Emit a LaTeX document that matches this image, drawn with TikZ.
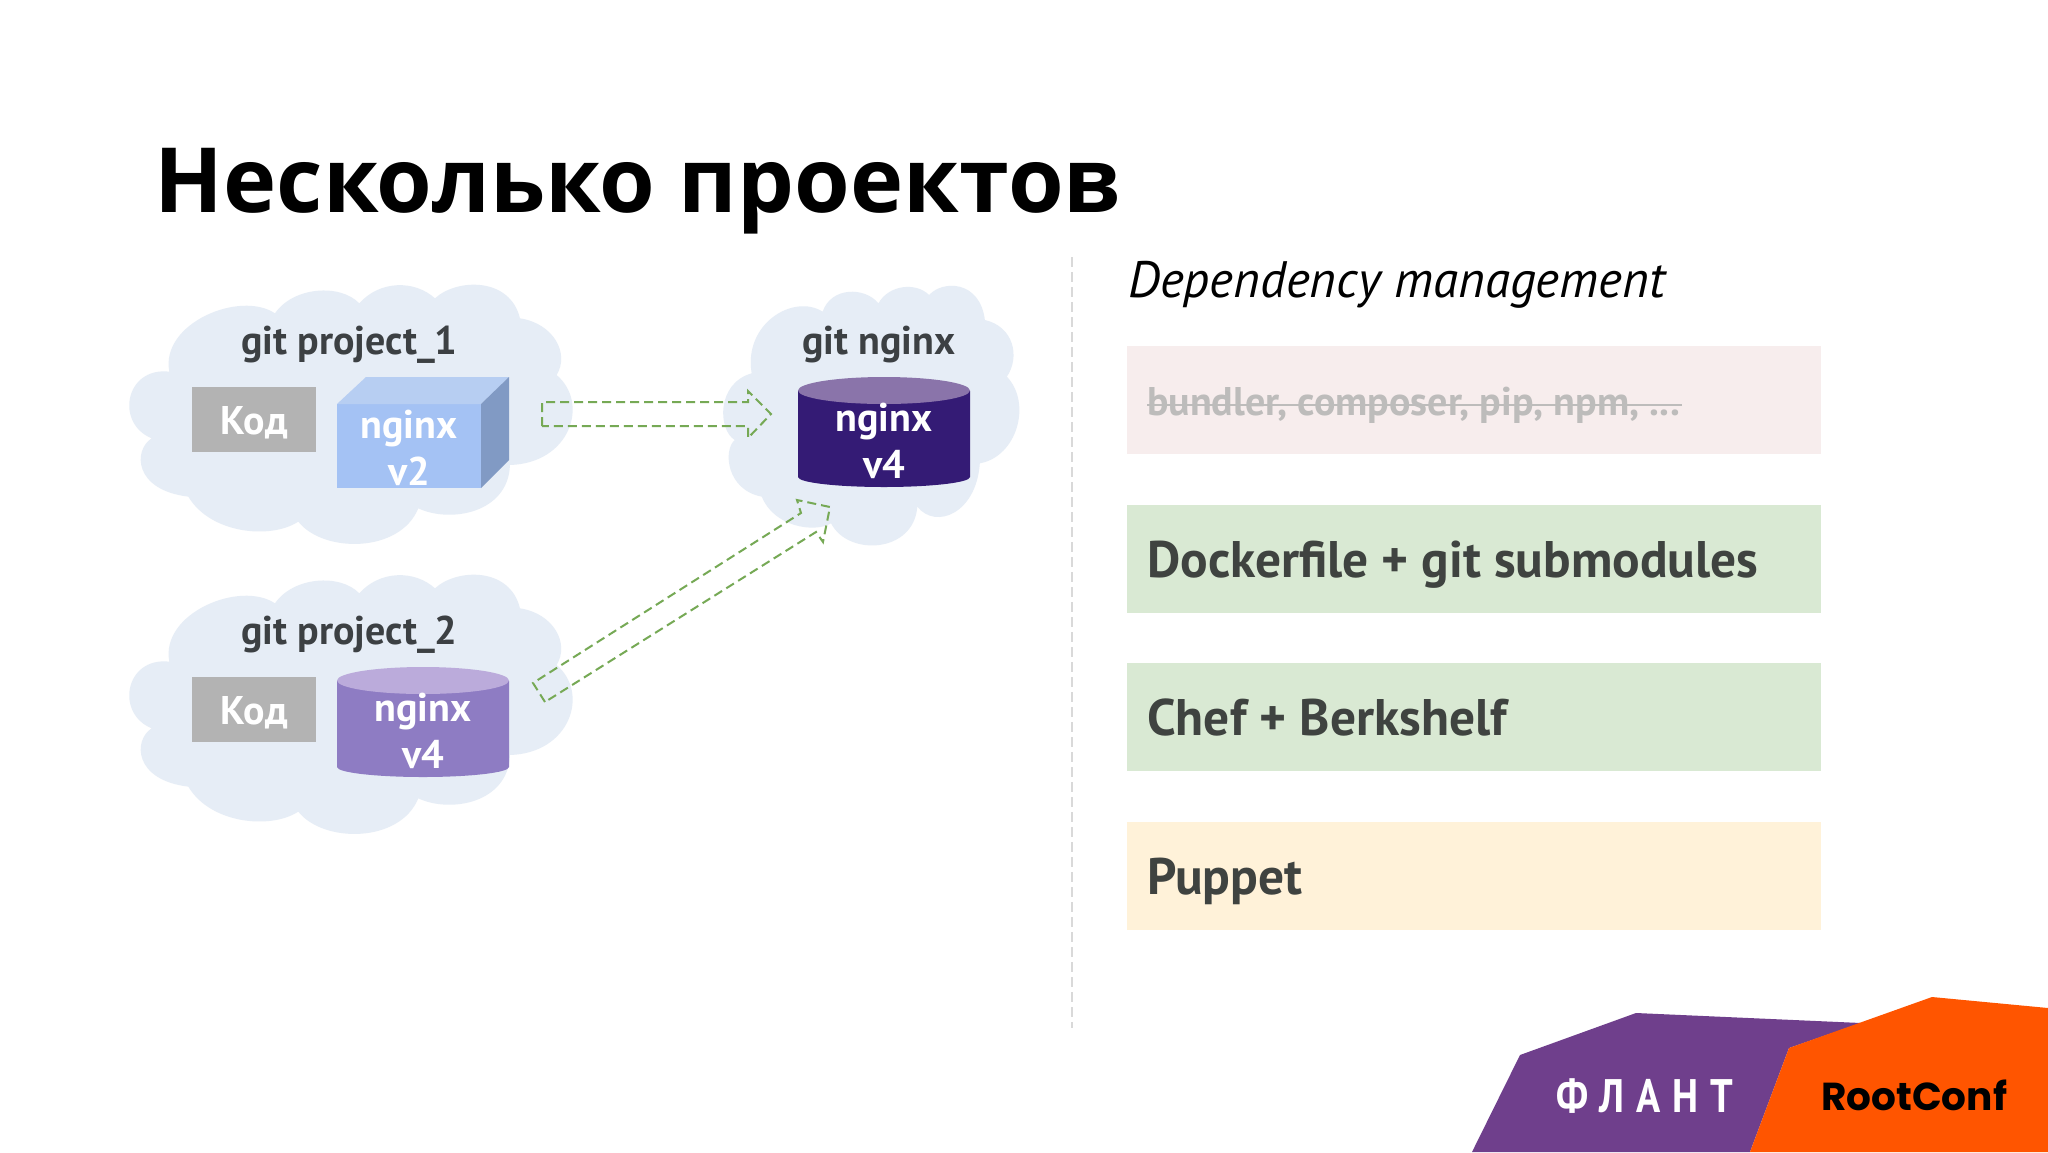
\documentclass[tikz,border=0pt]{standalone}
\usepackage{fontspec}
\setmainfont{PT Sans}
\newfontfamily\titlefont{Open Sans}
\newfontfamily\rootfont{Poppins}
\usetikzlibrary{calc}
\definecolor{cloudc}{HTML}{E6EDF6}
\definecolor{labelc}{HTML}{3C4043}
\definecolor{codec}{HTML}{B3B3B3}
\definecolor{arrowc}{HTML}{76A955}
\definecolor{boxfront}{HTML}{A4C2F4}
\definecolor{boxtop}{HTML}{B7CEF2}
\definecolor{boxside}{HTML}{819AC4}
\definecolor{darkcyl}{HTML}{341B75}
\definecolor{darklid}{HTML}{8A74AA}
\definecolor{lightcyl}{HTML}{8E7CC3}
\definecolor{lightlid}{HTML}{BBABDB}
\definecolor{rowred}{HTML}{F7EDED}
\definecolor{rowgreen}{HTML}{D9E9D3}
\definecolor{rowyellow}{HTML}{FFF2D9}
\definecolor{rowtext}{HTML}{3F4340}
\definecolor{struck}{HTML}{BDBCBB}
\definecolor{rulec}{HTML}{D9D9D9}
\definecolor{purplec}{HTML}{6F3F8C}
\definecolor{orangec}{HTML}{FF5500}
\tikzset{
  cloudlabel/.style={anchor=base,text=labelc,font=\bfseries\fontsize{40}{47}\selectfont,inner sep=0pt},
  codebox/.style={fill=codec,text=white,minimum width=124pt,minimum height=65pt,inner sep=0pt,text height=30pt,text depth=0pt,font=\bfseries\fontsize{40}{47}\selectfont},
  whitetext/.style={text=white,align=center,inner sep=0pt,font=\bfseries\fontsize{40}{47}\selectfont},
  rowbox/.style={minimum width=694pt,minimum height=108pt,inner sep=0pt,anchor=north west},
  rowlabel/.style={anchor=base west,inner sep=0pt,text=rowtext,font=\bfseries\fontsize{51.4}{60}\selectfont},
  blockarrow/.style={draw=arrowc,line width=2pt,dash pattern=on 9pt off 5pt,line join=miter}
}
\newcommand{\cloudA}{%
  \fill[cloudc] (125,535)
    .. controls (15,490) and (45,320) .. (178,335)
    .. controls (150,190) and (390,90) .. (495,160)
    .. controls (550,80) and (690,70) .. (748,130)
    .. controls (810,60) and (915,60) .. (975,115)
    .. controls (1040,55) and (1200,50) .. (1230,175)
    .. controls (1330,190) and (1380,280) .. (1340,345)
    .. controls (1440,430) and (1380,610) .. (1200,615)
    .. controls (1195,760) and (1020,790) .. (925,745)
    .. controls (870,880) and (640,880) .. (565,785)
    .. controls (480,840) and (300,820) .. (235,710)
    .. controls (70,690) and (70,570) .. (125,535) -- cycle;
}
\begin{document}
\begin{tikzpicture}[x=1pt,y=-1pt]
\useasboundingbox (0,0) rectangle (2048,1152);
\fill[white] (0,0) rectangle (2048,1152);

% clouds
\begin{scope}[shift={(110,260)},x=0.3333pt,y=-0.3333pt]\cloudA\end{scope}
\begin{scope}[shift={(110,550)},x=0.3333pt,y=-0.3333pt]\cloudA\end{scope}
\begin{scope}[shift={(510,270)},x=0.338pt,y=-0.3333pt]
  \fill[cloudc] (665,510)
    .. controls (615,480) and (610,340) .. (715,310)
    .. controls (690,160) and (840,70) .. (925,125)
    .. controls (950,50) and (1050,50) .. (1090,100)
    .. controls (1120,45) and (1200,35) .. (1240,75)
    .. controls (1280,30) and (1390,30) .. (1405,150)
    .. controls (1490,170) and (1510,260) .. (1470,320)
    .. controls (1545,400) and (1500,560) .. (1390,580)
    .. controls (1380,730) and (1260,780) .. (1205,710)
    .. controls (1195,850) and (1000,860) .. (950,760)
    .. controls (900,790) and (780,770) .. (745,680)
    .. controls (640,660) and (630,540) .. (665,510) -- cycle;
\end{scope}

% title
\node[anchor=base west,inner sep=0pt,font=\titlefont\bfseries\fontsize{90}{110}\selectfont] (title) at (154.5,212) {Несколько проектов};

% cloud labels
\node[cloudlabel] (lab1) at (349.5,354.5) {git project\_1};
\node[cloudlabel] (lab2) at (349.5,644.5) {git project\_2};
\node[cloudlabel] (lab3) at (879,354.5) {git nginx};

% code boxes
\node[codebox] (code1) at (254,419.5) {Код};
\node[codebox] (code2) at (254,709.5) {Код};

% cube
\fill[boxfront] (337,404) rectangle (481,488);
\fill[boxtop] (337,404) -- (366,377) -- (509,377) -- (481,404) -- cycle;
\fill[boxside] (481,404) -- (509,377) -- (509,460) -- (481,488) -- cycle;
\node[whitetext] (n2) at (409,447.5) {nginx\\v2};

% dark cylinder
\fill[darkcyl] (798,391) -- (798,477) arc[start angle=180,end angle=0,x radius=86,y radius=10] -- (970,391) -- cycle;
\fill[darklid] (884,390.5) ellipse[x radius=86,y radius=13.5];
\node[whitetext] (n4a) at (884,440.5) {nginx\\v4};

% light cylinder
\fill[lightcyl] (337,681) -- (337,767) arc[start angle=180,end angle=0,x radius=86,y radius=10] -- (509,681) -- cycle;
\fill[lightlid] (423,680.5) ellipse[x radius=86,y radius=13.5];
\node[whitetext] (n4b) at (423,730.5) {nginx\\v4};

% block arrows
\coordinate (a1a) at (542,426); \coordinate (a1b) at (542,402);
\coordinate (a1c) at (748,402); \coordinate (a1d) at (748,391);
\coordinate (a1e) at (771,414); \coordinate (a1f) at (748,438);
\coordinate (a1g) at (748,426);
\draw[blockarrow] (a1a) -- (a1b) -- (a1c) -- (a1d) -- (a1e) -- (a1f) -- (a1g) -- cycle;
\coordinate (a2a) at (545,702); \coordinate (a2b) at (533,683);
\coordinate (a2c) at (801,513); \coordinate (a2d) at (797,500);
\coordinate (a2e) at (830,507); \coordinate (a2f) at (823,542);
\coordinate (a2g) at (816,532);
\draw[blockarrow] (a2a) -- (a2b) -- (a2c) -- (a2d) -- (a2e) -- (a2f) -- (a2g) -- cycle;

% divider
\coordinate (ruleT) at (1072,257); \coordinate (ruleB) at (1072,1028);
\draw[rulec,line width=2pt,dash pattern=on 10pt off 5pt] (ruleT) -- (ruleB);

% right column
\node[anchor=base west,inner sep=0pt,font=\itshape\fontsize{51.2}{58}\selectfont,text=black] (dep) at (1128,297) {Dependency management};
\node[rowbox,fill=rowred] (r1) at (1127,346) {};
\node[rowbox,fill=rowgreen] (r2) at (1127,505) {};
\node[rowbox,fill=rowgreen] (r3) at (1127,663) {};
\node[rowbox,fill=rowyellow] (r4) at (1127,822) {};
\node[anchor=base west,inner sep=0pt,text=struck,font=\bfseries\fontsize{40}{46}\selectfont] (t1) at (1147,415) {bundler, composer, pip, npm, ...};
\coordinate (s1) at (1147,405); \coordinate (s2) at (1682,405);
\draw[struck,line width=2pt] (s1) -- (s2);
\node[rowlabel] (t2) at (1147,577) {Dockerfile + git submodules};
\node[rowlabel] (t3) at (1147,735) {Chef + Berkshelf};
\node[rowlabel] (t4) at (1147,894) {Puppet};

% footer
\fill[purplec] (1472,1152) -- (1520,1055) -- (1636,1013) -- (1861,1023) -- (1789,1048) -- (1750,1152) -- cycle;
\fill[orangec] (1750,1152) -- (1789,1048) -- (1932,997) -- (2048,1008) -- (2048,1152) -- cycle;
\node[anchor=base,inner sep=0pt,text=white,font=\bfseries\fontsize{47}{50}\selectfont,xscale=0.85] (flant) at (1645,1112) {\addfontfeatures{LetterSpace=30}ФЛАНТ};
\node[anchor=base west,inner sep=0pt,text=black,font=\rootfont\bfseries\fontsize{39}{44}\selectfont] (root) at (1821,1110) {RootConf};
\end{tikzpicture}
\end{document}
